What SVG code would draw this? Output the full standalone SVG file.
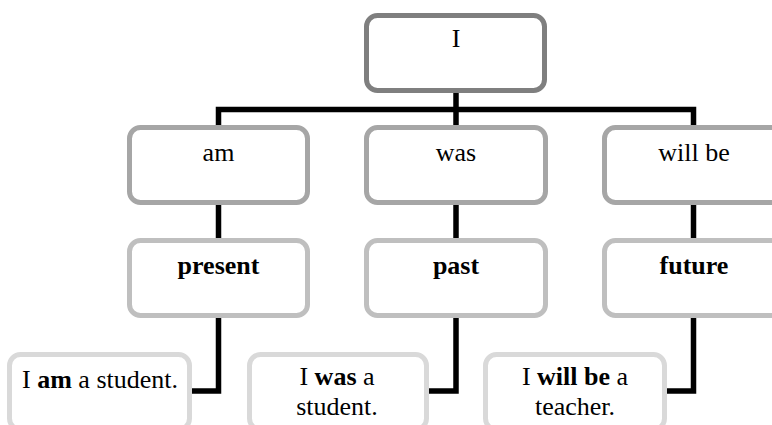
<svg xmlns="http://www.w3.org/2000/svg" width="772" height="425" viewBox="0 0 772 425">
  <style>
    .box { fill: #ffffff; stroke-width: 5; }
    .l1 { stroke: #7f7f7f; }
    .l2 { stroke: #a6a6a6; }
    .l3 { stroke: #bfbfbf; }
    .l4 { stroke: #d9d9d9; }
    .link { fill: none; stroke: #000000; stroke-width: 5.5; stroke-linejoin: miter; }
  </style>
  <rect width="772" height="425" fill="#ffffff"/>

  <!-- connectors -->
  <g id="connectors">
    <path class="link" d="M456 93 V127"/>
    <path class="link" d="M218.5 127 V109.5 H693.5 V127"/>
    <path class="link" d="M218.5 205 V238"/>
    <path class="link" d="M456 205 V238"/>
    <path class="link" d="M693.5 205 V238"/>
    <path class="link" d="M218.5 318 V391 H192"/>
    <path class="link" d="M456 318 V391 H429"/>
    <path class="link" d="M693.5 318 V391 H667"/>
  </g>

  <!-- root -->
  <g id="node-i">
    <rect class="box l1" x="366.5" y="15.5" width="178" height="75" rx="11"/>
    <text font-family="Liberation Serif" font-size="26" text-anchor="middle" x="456" y="47">I</text>
  </g>

  <!-- verb forms -->
  <g id="node-am">
    <rect class="box l2" x="129.5" y="127.5" width="178" height="75" rx="11"/>
    <text font-family="Liberation Serif" font-size="26" text-anchor="middle" x="218.5" y="161">am</text>
  </g>
  <g id="node-was">
    <rect class="box l2" x="366.5" y="127.5" width="179" height="75" rx="11"/>
    <text font-family="Liberation Serif" font-size="26" text-anchor="middle" x="456" y="161">was</text>
  </g>
  <g id="node-will-be">
    <rect class="box l2" x="604.5" y="127.5" width="179" height="75" rx="11"/>
    <text font-family="Liberation Serif" font-size="26" text-anchor="middle" x="694" y="161">will be</text>
  </g>

  <!-- tenses -->
  <g id="node-present">
    <rect class="box l3" x="129.5" y="240.5" width="178" height="75" rx="11"/>
    <text font-family="Liberation Serif" font-size="26" font-weight="bold" text-anchor="middle" x="218.5" y="274">present</text>
  </g>
  <g id="node-past">
    <rect class="box l3" x="366.5" y="240.5" width="179" height="75" rx="11"/>
    <text font-family="Liberation Serif" font-size="26" font-weight="bold" text-anchor="middle" x="456" y="274">past</text>
  </g>
  <g id="node-future">
    <rect class="box l3" x="604.5" y="240.5" width="179" height="75" rx="11"/>
    <text font-family="Liberation Serif" font-size="26" font-weight="bold" text-anchor="middle" x="694" y="274">future</text>
  </g>

  <!-- example sentences -->
  <g id="node-present-example">
    <rect class="box l4" x="9.5" y="354.5" width="180" height="75" rx="11"/>
    <text font-family="Liberation Serif" font-size="26" text-anchor="middle" x="100" y="388">I <tspan font-weight="bold">am</tspan> a student.</text>
  </g>
  <g id="node-past-example">
    <rect class="box l4" x="249.5" y="354.5" width="177" height="75" rx="11"/>
    <text font-family="Liberation Serif" font-size="26" text-anchor="middle" x="337" y="385">I <tspan font-weight="bold">was</tspan> a</text>
    <text font-family="Liberation Serif" font-size="26" text-anchor="middle" x="337" y="415">student.</text>
  </g>
  <g id="node-future-example">
    <rect class="box l4" x="485.5" y="354.5" width="179" height="75" rx="11"/>
    <text font-family="Liberation Serif" font-size="26" text-anchor="middle" x="575" y="385">I <tspan font-weight="bold">will be</tspan> a</text>
    <text font-family="Liberation Serif" font-size="26" text-anchor="middle" x="575" y="415">teacher.</text>
  </g>
</svg>
